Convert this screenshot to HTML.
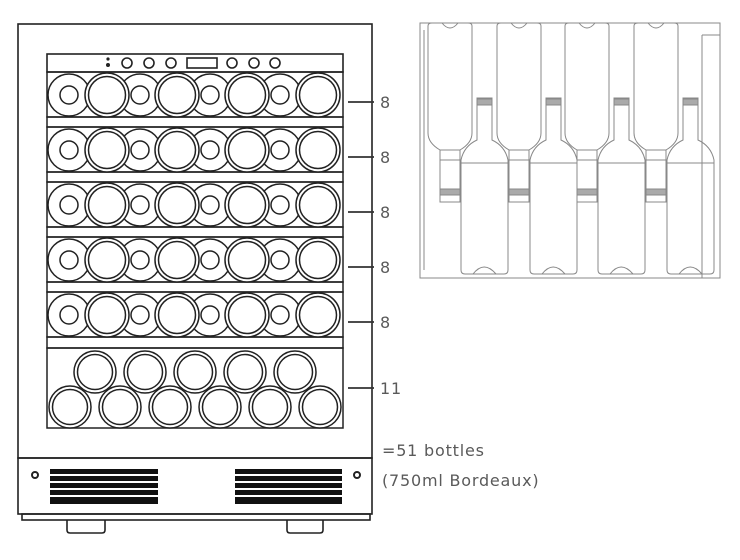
<!DOCTYPE html>
<html><head><style>
html,body{margin:0;padding:0;background:#fff;}
svg{display:block;}
text{font-family:"DejaVu Sans","Liberation Sans",sans-serif;fill:#5a5a5a;font-size:16px;letter-spacing:0.8px;}
</style></head><body>
<svg width="740" height="560" viewBox="0 0 740 560" xmlns="http://www.w3.org/2000/svg">
<g fill="none" stroke="#222" stroke-width="1.6">
  <rect x="18" y="24" width="354" height="434"/>
  <rect x="18" y="458" width="354" height="56"/>
  <rect x="22" y="514" width="348" height="6"/>
  <path d="M67 520 V530 Q67 533 70 533 H102 Q105 533 105 530 V520"/>
  <path d="M287 520 V530 Q287 533 290 533 H320 Q323 533 323 530 V520"/>
  <circle cx="35" cy="475" r="3" stroke-width="2"/>
  <circle cx="357" cy="475" r="3" stroke-width="2"/>
  <rect x="47" y="54" width="296" height="18"/>
  <circle cx="127" cy="63" r="5"/><circle cx="149" cy="63" r="5"/><circle cx="171" cy="63" r="5"/>
  <rect x="187" y="58" width="30" height="10"/>
  <circle cx="232" cy="63" r="5"/><circle cx="254" cy="63" r="5"/><circle cx="275" cy="63" r="5"/>
</g>
<circle cx="108" cy="59" r="1.6" fill="#222"/><circle cx="108" cy="65" r="2" fill="#222"/>
<g fill="#111">
  <rect x="50" y="469" width="108" height="5"/><rect x="50" y="476" width="108" height="5"/><rect x="50" y="483" width="108" height="5"/><rect x="50" y="490" width="108" height="5"/><rect x="50" y="497" width="108" height="7"/>
  <rect x="235" y="469" width="107" height="5"/><rect x="235" y="476" width="107" height="5"/><rect x="235" y="483" width="107" height="5"/><rect x="235" y="490" width="107" height="5"/><rect x="235" y="497" width="107" height="7"/>
</g>
<g fill="none" stroke="#222" stroke-width="1.5">
  <rect x="47" y="72" width="296" height="45"/><rect x="47" y="117" width="296" height="10"/>
  <rect x="47" y="127" width="296" height="45"/><rect x="47" y="172" width="296" height="10"/>
  <rect x="47" y="182" width="296" height="45"/><rect x="47" y="227" width="296" height="10"/>
  <rect x="47" y="237" width="296" height="45"/><rect x="47" y="282" width="296" height="10"/>
  <rect x="47" y="292" width="296" height="45"/><rect x="47" y="337" width="296" height="11"/>
  <rect x="47" y="348" width="296" height="80"/>
</g>
<g id="bottles" fill="none" stroke="#222" stroke-width="1.5"></g>
<g stroke="#333" stroke-width="1.8">
  <line x1="348" y1="102" x2="374" y2="102"/><line x1="348" y1="157" x2="374" y2="157"/>
  <line x1="348" y1="212" x2="374" y2="212"/><line x1="348" y1="267" x2="374" y2="267"/>
  <line x1="348" y1="322" x2="374" y2="322"/><line x1="348" y1="388" x2="374" y2="388"/>
</g>
<text x="380" y="108">8</text><text x="380" y="163">8</text><text x="380" y="218">8</text>
<text x="380" y="273">8</text><text x="380" y="328">8</text><text x="380" y="394">11</text>
<text x="382" y="456">=51 bottles</text>
<text x="382" y="486">(750ml  Bordeaux)</text>
<g fill="none" stroke="#888" stroke-width="1" id="rack">
  <path d="M420 23 H720 V278 H420 Z"/>
  <path d="M702 35 H720 M702 35 V278 M424 30 V270"/>
</g>
<script>
var ns="http://www.w3.org/2000/svg";
function el(p,t,a){var e=document.createElementNS(ns,t);for(var k in a)e.setAttribute(k,a[k]);p.appendChild(e);return e;}
var b=document.getElementById('bottles');
var rowsY=[95,150,205,260,315];
var xs=[69,107,140,177,210,247,280,318];
rowsY.forEach(function(y){
  xs.forEach(function(x,i){
    if(i%2==0){el(b,'circle',{cx:x,cy:y,r:21});el(b,'circle',{cx:x,cy:y,r:9});}
  });
  xs.forEach(function(x,i){
    if(i%2==1){el(b,'circle',{cx:x,cy:y,r:22,fill:'#fff'});el(b,'circle',{cx:x,cy:y,r:18.5});}
  });
});
[95,145,195,245,295].forEach(function(x){el(b,'circle',{cx:x,cy:372,r:21,fill:'#fff'});el(b,'circle',{cx:x,cy:372,r:17.5});});
[70,120,170,220,270,320].forEach(function(x){el(b,'circle',{cx:x,cy:407,r:21,fill:'#fff'});el(b,'circle',{cx:x,cy:407,r:17.5});});
var r=document.getElementById('rack');
[428,497,565,634].forEach(function(x){
  el(r,'path',{d:'M'+x+' 26 Q'+x+' 23 '+(x+4)+' 23 H'+(x+40)+' Q'+(x+44)+' 23 '+(x+44)+' 26 V133 Q'+(x+44)+' 143 '+(x+32)+' 150 H'+(x+12)+' Q'+x+' 143 '+x+' 133 Z'});
  el(r,'path',{d:'M'+(x+14)+' 23 Q'+(x+22)+' 33 '+(x+30)+' 23'});
  el(r,'path',{d:'M'+(x+12)+' 150 V202 H'+(x+32)+' V150'});
  el(r,'rect',{x:x+12,y:189,width:20,height:6,fill:'#aaa'});
  el(r,'line',{x1:x+12,y1:160,x2:x+32,y2:160});
});
[461,530,598,667].forEach(function(x){
  el(r,'path',{d:'M'+(x+16)+' 98 V140 Q'+(x+3)+' 146 '+x+' 160 V270 Q'+x+' 274 '+(x+4)+' 274 H'+(x+43)+' Q'+(x+47)+' 274 '+(x+47)+' 270 V160 Q'+(x+44)+' 146 '+(x+31)+' 140 V98 Z'});
  el(r,'rect',{x:x+16,y:99,width:15,height:6,fill:'#aaa'});
  el(r,'line',{x1:x,y1:163,x2:x+47,y2:163});
  el(r,'path',{d:'M'+(x+12)+' 274 Q'+(x+23)+' 260 '+(x+35)+' 274'});
});
</script>
</svg>
</body></html>
